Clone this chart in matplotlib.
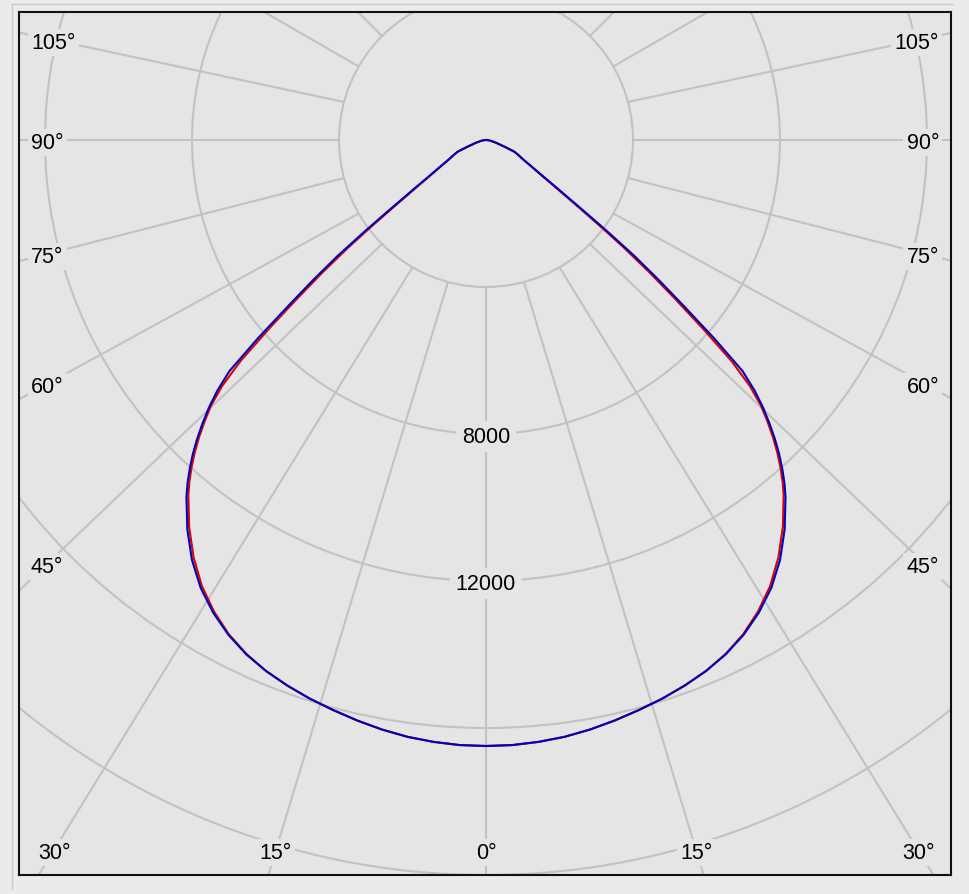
import numpy as np
import matplotlib.pyplot as plt
from matplotlib.patches import Circle
from matplotlib.lines import Line2D

# gamma angles (deg from nadir) and luminous intensity (cd)
gamma = [0, 2.5, 5, 7.5, 10, 12.5, 15, 17.5, 20, 22.5, 25, 27.5, 30, 32.5,
         35, 37.5, 40, 41, 42, 43, 44, 45, 46, 47, 48, 49, 50, 51, 52, 53,
         54, 55, 56, 57.5, 60, 62.5, 65, 67.5, 70, 75, 80, 85, 90, 180]
cd_red = [16490, 16480, 16440, 16380, 16290, 16180, 16060, 15940, 15800,
          15640, 15430, 15160, 14810, 14390, 13870, 13270, 12600, 12300,
          11970, 11620, 11240, 10830, 10400, 9820, 8990, 7810, 6690, 5720,
          4780, 3860, 3120, 2580, 2200, 1790, 1380, 1120, 970, 840, 545,
          270, 135, 55, 25, 0]
cd_blue = [16490, 16480, 16440, 16380, 16290, 16180, 16060, 15940, 15800,
           15640, 15440, 15180, 14850, 14450, 13950, 13350, 12680, 12380,
           12050, 11700, 11320, 10910, 10480, 9990, 9390, 8220, 7020, 6040,
           5120, 4140, 3320, 2720, 2310, 1850, 1415, 1140, 980, 840, 545,
           270, 135, 55, 25, 0]

rings = [4000, 8000, 12000, 16000, 20000]
ring_labels = [8000, 12000]
spoke_angles = [0, 15, 30, 45, 60, 75, 90, 105, 120, 135, 150, 165]

# label anchors in pixels from the diagram centre (x right, y up)
label_pos = {0: (0, -710), 15: (210, -710), 30: (432, -710),
             45: (439, -424), 60: (439, -244), 75: (439, -114),
             90: (439, 0), 105: (432, 100)}

px = 4000 / 147.0  # cd per pixel
bg = "#e5e5e5"
grid_c = "#c2c2c2"
fs = 15.5
nudge = -2.5 * px  # text sits slightly low in the original

plt.rcParams["font.family"] = ["Liberation Sans", "DejaVu Sans"]
fig = plt.figure(figsize=(9.69, 8.95), dpi=100)
fig.patch.set_facecolor("#ebebeb")
ax = fig.add_axes([19 / 969, 1 - 876 / 895, 932 / 969, 863 / 895])
ax.set_facecolor(bg)
ax.set_xlim(-467 * px, 465 * px)
ax.set_ylim(-735 * px, 128 * px)
ax.set_xticks([])
ax.set_yticks([])
for s in ax.spines.values():
    s.set_color("#111111")
    s.set_linewidth(1.5)

# rings
for r in rings:
    ax.add_patch(Circle((0, 0), r, fill=False, ec=grid_c, lw=1.5, zorder=1))

# spokes: from the inner ring towards the label anchors
r0 = rings[0]
for a in spoke_angles:
    t = np.radians(a)
    for side in (-1, 1):
        if a == 0 and side == 1:
            continue
        x0, y0 = side * r0 * np.sin(t), -r0 * np.cos(t)
        if a in label_pos:
            lx, ly = label_pos[a]
            x1, y1 = side * lx * px, ly * px
        else:
            x1, y1 = side * 20000 * np.sin(t), -20000 * np.cos(t)
        d = np.array([x1 - x0, y1 - y0])
        d = d / np.hypot(*d) * 40000
        ax.plot([x0, x0 + d[0]], [y0, y0 + d[1]], color=grid_c, lw=1.5,
                zorder=1, solid_capstyle="butt")

box = dict(boxstyle="square,pad=0.15", fc=bg, ec="none")
for a, (lx, ly) in label_pos.items():
    txt = f"{a}°"
    if ly <= -700:
        sides = (-1, 1) if a else (1,)
        for side in sides:
            ax.text(side * lx * px, ly * px + nudge, txt, ha="center",
                    va="center", fontsize=fs, bbox=box, zorder=2)
    else:
        ax.text(-455 * px, ly * px + nudge, txt, ha="left", va="center",
                fontsize=fs, bbox=box, zorder=2)
        ax.text(453 * px, ly * px + nudge, txt, ha="right", va="center",
                fontsize=fs, bbox=box, zorder=2)

for r in ring_labels:
    ax.text(0, -r + nudge, str(r), ha="center", va="center", fontsize=fs,
            bbox=dict(boxstyle="square,pad=0.25", fc=bg, ec="none"), zorder=2)

# intensity curves, mirrored on both sides of nadir
for vals, col in ((cd_red, "#e00000"), (cd_blue, "#0000c0")):
    g = np.radians(np.array(gamma))
    v = np.array(vals)
    ang = np.concatenate([-g[::-1], g[1:]])
    rr = np.concatenate([v[::-1], v[1:]])
    ax.plot(rr * np.sin(ang), -rr * np.cos(ang), color=col, lw=1.5, zorder=3)

# outer window border
fig.add_artist(Line2D([12 / 969, 12 / 969], [1 - 5 / 895, 1 - 890 / 895],
                      transform=fig.transFigure, color="#cacaca", lw=1))
fig.add_artist(Line2D([12 / 969, 953 / 969], [1 - 5 / 895, 1 - 5 / 895],
                      transform=fig.transFigure, color="#cacaca", lw=1))

fig.savefig("out.png", dpi=100, facecolor=fig.get_facecolor())
